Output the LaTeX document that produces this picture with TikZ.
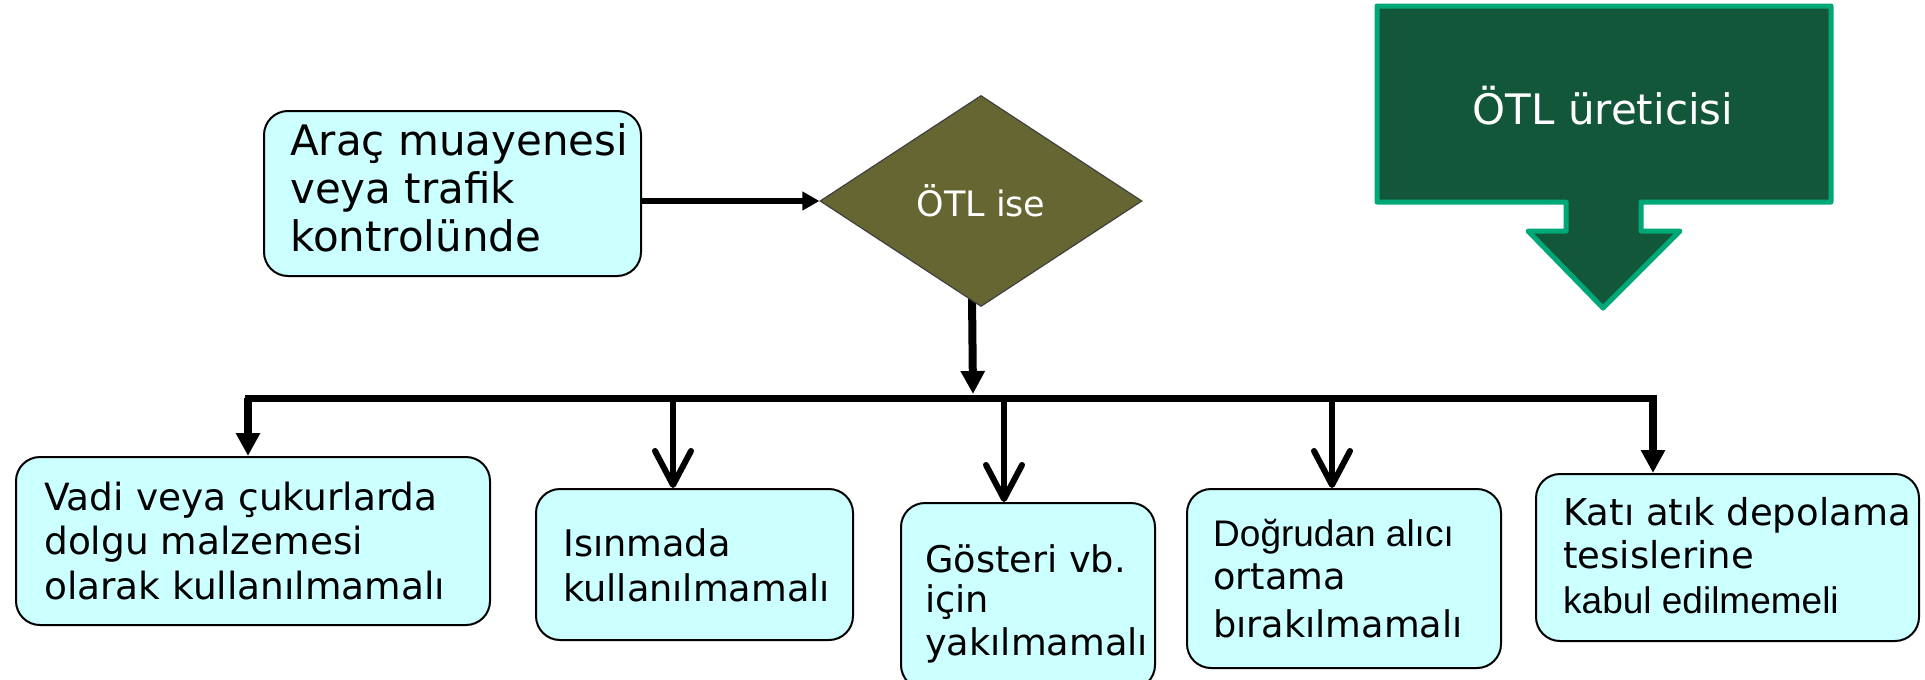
\documentclass[tikz,border=0pt]{standalone}
\usepackage{fontspec}
\setmainfont{DejaVu Sans}
\newfontfamily\arialf{Liberation Sans}
\usetikzlibrary{arrows.meta,shapes.geometric,backgrounds}
\definecolor{cyanbox}{HTML}{CCFFFF}
\definecolor{dolive}{HTML}{666633}
\definecolor{dgreen}{HTML}{12573A}
\definecolor{lgreen}{HTML}{00A878}
\newcommand{\myfs}[1]{\fontsize{#1}{#1}\selectfont}
\tikzset{
  box/.style={draw=black, line width=2pt, fill=cyanbox, rounded corners=24pt, inner sep=0pt, anchor=north west},
  txt/.style={anchor=base west, inner sep=0pt, font=\myfs{36.7}},
  txta/.style={anchor=base west, inner sep=0pt, font=\myfs{37.5}},
  txtb/.style={anchor=base west, inner sep=0pt, font=\myfs{37}},
  txtar/.style={anchor=base west, inner sep=0pt, font=\myfs{37}\arialf},
  conn/.style={line width=6pt, draw=black},
  heavy/.style={line width=8pt, draw=black},
  filledhead/.style={-{Triangle[length=23pt,width=23pt]}},
  openhead/.style={-{Straight Barb[length=34pt,width=36pt,line cap=round,line join=round]}},
}
\begin{document}
\begin{tikzpicture}[x=1pt,y=-1pt]
\useasboundingbox (0,0) rectangle (1925,680);
% top-left box
\node[box, minimum width=377pt, minimum height=165pt] (boxA) at (263,110) {};
\node[anchor=base west, inner sep=0pt, font=\myfs{42}] (a1) at (290,155) {Araç muayenesi};
\node[anchor=base west, inner sep=0pt, font=\myfs{42}] (a2) at (290,203) {veya trafik};
\node[anchor=base west, inner sep=0pt, font=\myfs{42}] (a3) at (290,251) {kontrolünde};
% diamond
\node[diamond, draw=black!75, line width=1.2pt, fill=dolive, minimum width=322pt, minimum height=211pt, inner sep=0pt, text=white, font=\myfs{35}] (dia) at (981,201) {ÖTL ise};
\draw[conn, -{Triangle[length=17pt,width=18pt]}] (boxA.east |- dia.west) -- (dia.west);
% green callout
\draw[line width=5pt, draw=lgreen, fill=dgreen, line join=round]
  (1377,6) -- (1831,6) -- (1831,202) -- (1641,202) -- (1641,231) -- (1680,231)
  -- (1603,308) -- (1528,231) -- (1566,231) -- (1566,202) -- (1377,202) -- cycle;
\node[anchor=base, inner sep=0pt, text=white, font=\myfs{42}] (gt) at (1603,124) {ÖTL üreticisi};
% bus
\coordinate (junc) at (973,394);
\coordinate (busL) at (248,398);
\coordinate (busR) at (1653,398);
\coordinate (d2) at (673,398);
\coordinate (d3) at (1004,398);
\coordinate (d4) at (1332,398);
\begin{scope}[on background layer]
\draw[heavy, filledhead] ([xshift=-9pt,yshift=10pt]dia.south) -- (junc);
\end{scope}
\draw[line width=7pt, line cap=rect] (busL) -- (busR);
% bottom boxes
\node[box, minimum width=474pt, minimum height=168pt] (b1) at (15,456) {};
\node[box, minimum width=317pt, minimum height=151pt] (b2) at (535,488) {};
\node[box, minimum width=254pt, minimum height=186pt] (b3) at (900,502) {};
\node[box, minimum width=314pt, minimum height=179pt] (b4) at (1186,488) {};
\node[box, minimum width=383pt, minimum height=167pt] (b5) at (1535,473) {};
% drops
\draw[heavy, filledhead] (busL) -- (busL |- b1.north);
\draw[conn, openhead] (d2) -- (d2 |- b2.north);
\draw[conn, openhead] (d3) -- (d3 |- b3.north);
\draw[conn, openhead] (d4) -- (d4 |- b4.north);
\draw[heavy, filledhead] (busR) -- (busR |- b5.north);
% texts
\node[txta] (t11) at (44,510) {Vadi veya çukurlarda};
\node[txta] (t12) at (44,554) {dolgu malzemesi};
\node[txta] (t13) at (44,599) {olarak kullanılmamalı};
\node[txt] (t21) at (563,556) {Isınmada};
\node[txt] (t22) at (563,601) {kullanılmamalı};
\node[txt] (t31) at (925,572) {Gösteri vb.};
\node[txt] (t32) at (925,612) {için};
\node[txt] (t33) at (925,655) {yakılmamalı};
\node[txtar] (t41) at (1213,546) {Doğrudan alıcı};
\node[txt] (t42) at (1213,589) {ortama};
\node[txt] (t43) at (1213,637) {bırakılmamalı};
\node[txtb] (t51) at (1563,525) {Katı atık depolama};
\node[txtb] (t52) at (1563,568) {tesislerine};
\node[txtar] (t53) at (1563,613) {kabul edilmemeli};
\end{tikzpicture}
\end{document}
